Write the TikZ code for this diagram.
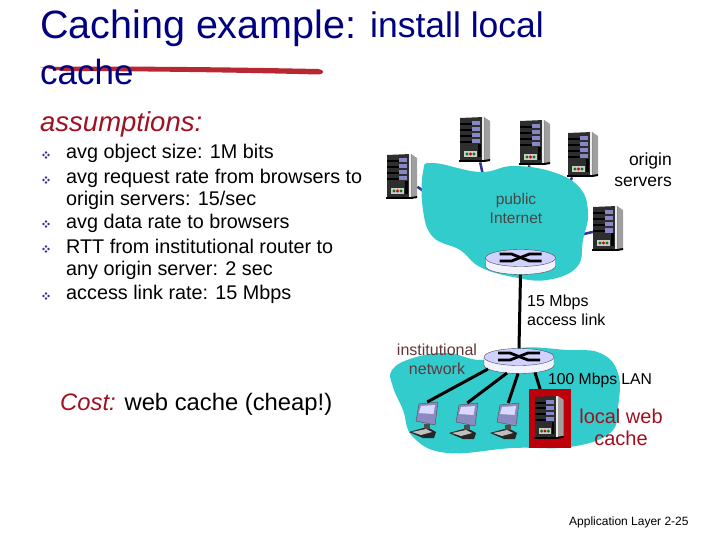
\documentclass[tikz,border=0pt]{standalone}
\usepackage{fontspec}
\setmainfont{Liberation Sans}

\definecolor{titleblue}{RGB}{0,0,128}
\definecolor{cloudteal}{RGB}{51,204,204}
\definecolor{linkblue}{RGB}{51,51,153}
\definecolor{darkred}{RGB}{160,16,32}
\definecolor{boxred}{RGB}{190,0,10}
\definecolor{penred}{RGB}{185,40,50}
\definecolor{labelgray}{RGB}{70,70,70}

\tikzset{
  server/.pic = {
    \node[inner sep=0pt, minimum width=30pt, minimum height=46pt, anchor=north west] (-body) at (0,0) {};
    \fill[gray!75] (24,1) -- (30,5) -- (30,43) -- (24,45) -- cycle;
    \fill[black!82] (0,2) -- (24,1) -- (24,44) -- (0,44) -- cycle;
    \fill[white!85!gray] (22,1) rectangle (24,44);
    \fill[black] (-1,44) rectangle (24,46);
    \fill[black] (24,44) -- (30,43) -- (30,45) -- (24,46) -- cycle;
    \foreach \sy in {8,14,20,26} {
      \fill[black] (0,\sy-1) rectangle (20,\sy+1);
      \fill[blue!35!gray!70!white] (12,\sy-2.5) rectangle (20,\sy+1.5);
    }
    \fill[black] (18,28) rectangle (20.5,41);
    \fill[gray!40] (4,35) rectangle (17,41);
    \fill[green!50!black] (7,38) circle (1.7);
    \fill[red!80!black] (10.5,38) circle (1.7);
    \fill[green!50!black] (14,38) circle (1.7);
  },
  router/.pic = {
    \node[inner sep=0pt, minimum width=70pt, minimum height=25pt] (-body) at (0,0) {};
    \draw[black!70, fill=blue!5] (-35,-4) -- (-35,4) arc[start angle=180, end angle=360, x radius=35, y radius=-8.5] -- (35,-4) -- cycle;
    \draw[black!70, fill=blue!18] (0,-4) ellipse (35 and 8.5);
    \draw[black, line width=2.8pt] (-21,-8) -- (-9,-8) -- (9,-1) -- (21,-1);
    \draw[black, line width=2.8pt] (-21,-1) -- (-9,-1) -- (9,-8) -- (21,-8);
  },
  host/.pic = {
    \node[inner sep=0pt, minimum width=24pt, minimum height=36pt, anchor=north west] (-body) at (0,0) {};
    \fill[black!85] (-6,30) -- (12,25) -- (21,30) -- (19,36) -- (8,36) -- cycle;
    \fill[gray!50] (-3,30) -- (11,27) -- (17,30) -- (6,33) -- cycle;
    \fill[black!70] (9,22) rectangle (15,27);
    \draw[black!70, fill=blue!30!gray!70!white] (4,2) -- (23,0) -- (20,23) -- (1,19) -- cycle;
    \fill[white!85!blue] (6,4) -- (20,3) -- (18.5,12) -- (4,11) -- cycle;
  },
  bullet/.pic = {
    \foreach \bx/\by in {0/-2.5,-2.5/0,2.5/0,0/2.5}
      \fill[titleblue!80] (\bx,\by) +(-1.4,0) -- +(0,-1.4) -- +(1.4,0) -- +(0,1.4) -- cycle;
  },
}

\begin{document}
\begin{tikzpicture}[
  x=1pt, y=-1pt,
  title/.style  = {anchor=base west, inner sep=0pt, text=titleblue},
  items/.style  = {anchor=north west, inner sep=0pt, align=left, font=\fontsize{19.8}{21.5}\selectfont},
  lbl/.style    = {inner sep=0pt, align=center, font=\fontsize{16}{19}\selectfont},
  cloud/.style  = {fill=cloudteal, smooth cycle, tension=0.7},
  link/.style   = {line width=3pt, black},
  srvlink/.style = {line width=2.5pt, linkblue},
]
  \useasboundingbox (0,0) rectangle (720,540);

  % left column
  \node[title, font=\fontsize{39.5}{40}\selectfont] (head) at (40,39) {Caching example:};
  \node[title, font=\fontsize{35.5}{40}\selectfont] (headb) at (370,38) {install local};
  \fill[penred] (40,67) .. controls (120,66) and (220,67) .. (318,69)
    .. controls (325,70) and (325,74) .. (318,74.5)
    .. controls (220,72) and (120,71) .. (62,71) -- cycle;
  \node[title, font=\fontsize{35}{40}\selectfont] (headc) at (40,85) {cache};

  \node[anchor=base west, inner sep=0pt, text=darkred, font=\fontsize{27.5}{30}\itshape] (assume) at (40,132) {assumptions:};

  \foreach \by in {155,180,224,249,296}
    \pic at (46,\by) {bullet};
  \node[items] (it1) at (66,144) {avg object size: 1M bits};
  \node[items] (it2) at (66,169) {avg request rate from browsers to\\origin servers: 15/sec};
  \node[items] (it3) at (66,214) {avg data rate to browsers};
  \node[items] (it4) at (66,239) {RTT from institutional router to\\any origin server: 2 sec};
  \node[items] (it5) at (66,285) {access link rate: 15 Mbps};

  \node[anchor=base west, inner sep=0pt, font=\fontsize{23.8}{26}\selectfont] (cost) at (60,410) {\textcolor{darkred}{\itshape Cost:} web cache (cheap!)};

  % public internet with its servers
  \pic (s1) at (387,153) {server};
  \pic (s2) at (460,116) {server};
  \pic (s3) at (520,119) {server};
  \pic (s4) at (568,131) {server};
  \pic (s5) at (593,205) {server};
  \coordinate (c1) at (432,197);
  \coordinate (c2) at (484,180);
  \coordinate (c3) at (527,175);
  \coordinate (c4) at (568,186);
  \coordinate (c5) at (580,235);
  \draw[srvlink] (s1-body) -- (c1);
  \draw[srvlink] (s2-body) -- (c2);
  \draw[srvlink] (s3-body) -- (c3);
  \draw[srvlink] (s4-body) -- (c4);
  \draw[srvlink] (s5-body) -- (c5);

  \fill[cloud] plot coordinates {(423,172) (433,163) (480,172) (513,166) (553,172) (580,188) (588,213) (583,240) (577,267) (547,280) (513,277) (480,267) (460,250) (433,237) (423,210)};
  \node[lbl, text=labelgray, font=\fontsize{15.5}{19}\selectfont] (pub) at (516,208) {public\\Internet};
  \node[lbl, font=\fontsize{17.5}{21}\selectfont, align=right, anchor=north east] (orig) at (672,153) {origin\\servers};

  % institutional network
  \fill[cloud] plot coordinates {(392,370) (413,358) (447,353) (483,360) (520,348) (567,350) (600,353) (618,373) (618,407) (610,433) (570,447) (513,448) (447,453) (413,437) (403,410) (393,387)};

  \pic (r1) at (520.5,262) {router};
  \pic (r2) at (519,361) {router};
  \draw[link] (r1-body.south) -- (r2-body.north);
  \node[lbl, align=left, anchor=north west] (acc) at (527,295) {15 Mbps\\access link};

  \pic (h1) at (415,402) {host};
  \pic (h2) at (455,403) {host};
  \pic (h3) at (496,403) {host};
  \coordinate (lt) at (541,392);
  \draw[link] (r2-body) ++(-31,8) -- (h1-body.north);
  \draw[link] (r2-body) ++(-12,12) -- (h2-body.north);
  \draw[link] (r2-body) ++(-1,12.5) -- (h3-body.north);
  \draw[link] (r2-body) ++(16,11.5) -- (lt);

  \fill[boxred] (529,389) rectangle (571,448);
  \pic[scale=0.95] (lc) at (535,395) {server};

  \node[lbl, text=labelgray!70!darkred] (inst) at (437,359) {institutional\\network};
  \node[lbl, anchor=west, font=\fontsize{15.7}{19}\selectfont] (lan) at (548,380) {100 Mbps LAN};
  \node[lbl, text=darkred, font=\fontsize{20}{22}\selectfont] (web) at (621,427) {local web\\cache};

  \node[anchor=base west, inner sep=0pt, font=\fontsize{12}{14}\selectfont] (foot) at (569,525) {Application Layer 2-25};
\end{tikzpicture}
\end{document}
